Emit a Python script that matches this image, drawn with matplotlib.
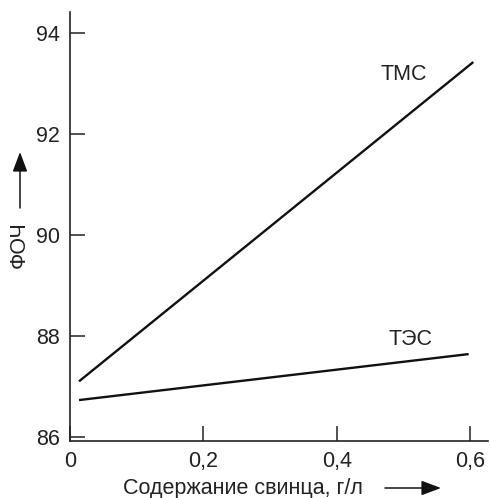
import matplotlib as mpl
import matplotlib.pyplot as plt
from matplotlib.patches import FancyArrowPatch
import numpy as np

# lead content, g/l (end points of each straight line)
lead = np.array([0.0135, 0.605])
tms_octane = np.array([87.1, 93.42])
lead_tes = np.array([0.0135, 0.598])
tes_octane = np.array([86.73, 87.64])

x_ticks = [0, 0.2, 0.4, 0.6]
x_labels = ["0", "0,2", "0,4", "0,6"]
y_ticks = [86, 88, 90, 92, 94]

mpl.rcParams["font.family"] = ["Liberation Sans", "DejaVu Sans"]
mpl.rcParams["font.size"] = 15.5

W, H = 490, 498
fig = plt.figure(figsize=(W / 100, H / 100), dpi=100)
ax = fig.add_axes([70 / W, 1 - 441 / H, 418 / W, 429 / H])

ax.plot(lead, tms_octane, color="#111111", lw=1.7, solid_capstyle="butt")
ax.plot(lead_tes, tes_octane, color="#111111", lw=1.7, solid_capstyle="butt")

ax.text(0.501, 93.18, "ТМС", ha="center", va="center", fontsize=15.5, color="#222222")
ax.text(0.511, 87.92, "ТЭС", ha="center", va="center", fontsize=15.5, color="#222222")

ax.set_xlim(0, 0.627)
ax.set_ylim(85.92, 94.41)
ax.set_xticks(x_ticks, labels=x_labels)
ax.set_yticks(y_ticks)
ax.tick_params(direction="in", length=11, width=1.1, pad=7, colors="#222222", labelsize=15.5)

for side in ["top", "right"]:
    ax.spines[side].set_visible(False)
for side in ["left", "bottom"]:
    ax.spines[side].set_linewidth(1.2)
    ax.spines[side].set_color("#222222")

# axis captions with direction arrows
fig.text(19 / W, 1 - 245 / H, "ФОЧ", rotation=90, ha="center", va="center",
         fontsize=15.5, color="#222222")
fig.text(243 / W, 1 - 488 / H, "Содержание свинца, г/л", ha="center", va="center",
         fontsize=15.5, color="#222222")


def caption_arrow(x0, y0, x1, y1):
    arrow = FancyArrowPatch((x0 / W, 1 - y0 / H), (x1 / W, 1 - y1 / H),
                            transform=fig.transFigure, arrowstyle="-|>,head_length=12,head_width=4.5",
                            color="#111111", lw=1.1, shrinkA=0, shrinkB=0)
    fig.patches.append(arrow)


caption_arrow(20, 208, 20, 152)
caption_arrow(385, 488, 441, 488)

fig.savefig("out.png", dpi=100)
